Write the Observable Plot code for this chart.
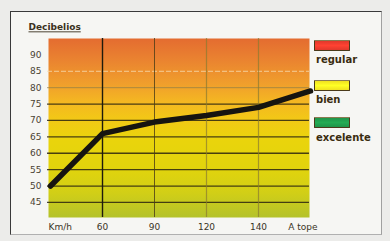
<!DOCTYPE html>
<html>
<head>
<meta charset="utf-8">
<script src="https://cdn.jsdelivr.net/npm/d3@7"></script>
<script src="https://cdn.jsdelivr.net/npm/@observablehq/plot@0.6"></script>
<style>
  html, body { margin: 0; padding: 0; background: #ececea; }
  #wrap { position: relative; width: 390px; height: 241px; overflow: hidden; background: #ececea; font-family: "DejaVu Sans", sans-serif; }
  #box { position: absolute; left: 10px; top: 11px; width: 370px; height: 222px; background: #f6f6f3;
         border-top: 1.5px solid #3a3a3a; border-left: 1.5px solid #3a3a3a; border-right: 1.5px solid #a0a0a0; border-bottom: 1.5px solid #b0b0b0; }
  #chart { position: absolute; left: 0; top: 0; }
  .sw { position: absolute; left: 314px; width: 34px; height: 9px; border: 1.6px solid #4a3a1a; border-top-color: #8a7a50; border-radius: 1px; }
  .lab { position: absolute; left: 316px; font: bold 10px "DejaVu Sans", sans-serif; line-height: 10px; color: #3a2c10; }
</style>
</head>
<body>
<div id="wrap">
  <div id="box"></div>
  <div id="chart"></div>
  <div id="legend"></div>
</div>
<script>
// ---- data ----
const xCats = ["Km/h", "60", "90", "120", "140", "A tope"];
const dB = [50, 66, 69.5, 71.5, 74, 79];
const yTicks = [45, 50, 55, 60, 65, 70, 75, 80, 85, 90];
const legendLabels = ["regular", "bien", "excelente"];
const legendColors = ["#e0392b", "#f0e020", "#1f9449"];
const title = "Decibelios";

const rows = xCats.map((c, i) => ({x: c, y: dB[i]}));

const defs = () => {
  const g = d3.create("svg:g");
  const lg = g.append("defs").append("linearGradient")
    .attr("id", "bg").attr("x1", 0).attr("x2", 0).attr("y1", 0).attr("y2", 1);
  [[0, "#e46c30"], [0.12, "#ea8330"], [0.25, "#f09e2c"], [0.35, "#f4b622"], [0.45, "#f2c816"],
   [0.56, "#ead40c"], [0.72, "#e2d40c"], [0.86, "#d2cf16"], [1, "#b4c22a"]]
    .forEach(([o, c]) => lg.append("stop").attr("offset", o).attr("stop-color", c));
  return g.node();
};

const darkY = yTicks.filter(v => v <= 75);

const svg = Plot.plot({
  width: 390,
  height: 241,
  marginLeft: 50,
  marginRight: 80,
  marginTop: 38,
  marginBottom: 24,
  style: {background: "transparent", fontFamily: "DejaVu Sans, sans-serif"},
  x: {type: "point", domain: xCats, padding: 0, axis: null},
  y: {domain: [40.4, 95], axis: null},
  marks: [
    defs,
    Plot.frame({fill: "url(#bg)", stroke: "none", insetLeft: -2, insetRight: 1}),
    Plot.ruleY(darkY, {stroke: "#2a2410", strokeWidth: 1.3, strokeOpacity: 0.85, insetLeft: -3, insetRight: 1}),
    Plot.ruleY([80], {stroke: "#8c7a48", strokeWidth: 1, strokeOpacity: 0.7, insetLeft: -3, insetRight: 1}),
    Plot.ruleY([85], {stroke: "#f6dcb0", strokeWidth: 1, strokeOpacity: 0.8, strokeDasharray: "5,2", insetLeft: -3, insetRight: 1}),
    Plot.ruleX(["60"], {stroke: "#1e1a0c", strokeWidth: 1.4}),
    Plot.ruleX(["90"], {stroke: "#4a3c18", strokeWidth: 1, strokeOpacity: 0.8}),
    Plot.ruleX(["120", "140"], {stroke: "#8a7a30", strokeWidth: 1.2, strokeOpacity: 0.7}),
    Plot.line(rows, {x: "x", y: "y", stroke: "#161410", strokeWidth: 5.5, strokeLinecap: "round", strokeLinejoin: "round"}),
    Plot.text(yTicks, {y: d => d, text: d => String(d), frameAnchor: "left", dx: -9, textAnchor: "end", fontSize: 9, fill: "#4a4232"}),
    Plot.text(xCats.slice(1, -1), {x: d => d, text: d => d, frameAnchor: "bottom", lineAnchor: "middle", dy: 10, fontSize: 9, fill: "#3a3426"}),
    Plot.text(xCats.slice(0, 1), {x: d => d, text: d => d, frameAnchor: "bottom", lineAnchor: "middle", dy: 10, dx: -2, textAnchor: "start", fontSize: 9, fill: "#3a3426"}),
    Plot.text(xCats.slice(-1), {x: d => d, text: d => d, frameAnchor: "bottom", lineAnchor: "middle", dy: 10, dx: 7, textAnchor: "end", fontSize: 9, fill: "#3a3426"}),
    Plot.text([title], {text: d => d, frameAnchor: "top-left", lineAnchor: "middle", dx: -22, dy: -11, textAnchor: "start", fontSize: 9, fontWeight: "bold", fill: "#3a3020"})
  ]
});

d3.select(svg).selectAll("text").filter(function() { return this.textContent === title; })
  .attr("text-decoration", "underline");

document.getElementById("chart").appendChild(svg);

// legend
const tops = [40, 80, 117];
const labTops = [54.5, 94.5, 132.5];
const leg = document.getElementById("legend");
legendLabels.forEach((l, i) => {
  const s = document.createElement("div");
  s.className = "sw";
  s.style.top = tops[i] + "px";
  s.style.background = `linear-gradient(${legendColors[i]}, ${d3.color(legendColors[i]).brighter(0.4)} 50%, ${legendColors[i]})`;
  leg.appendChild(s);
  const t = document.createElement("div");
  t.className = "lab";
  t.style.top = labTops[i] + "px";
  t.textContent = l;
  leg.appendChild(t);
});
</script>
</body>
</html>
